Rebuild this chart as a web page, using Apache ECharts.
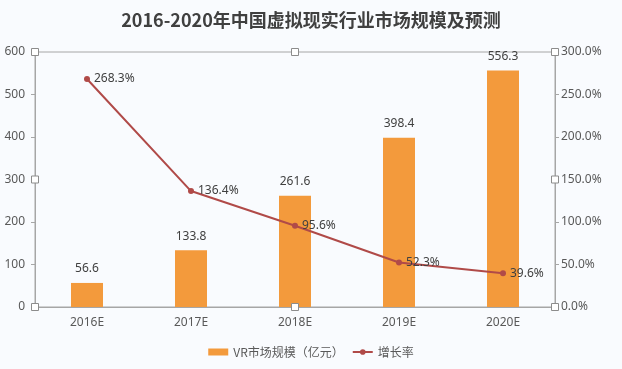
<!DOCTYPE html>
<html><head><meta charset="utf-8">
<script src="https://cdn.jsdelivr.net/npm/echarts@6/dist/echarts.min.js"></script>
<style>html,body{margin:0;padding:0;background:#fff}#c{width:622px;height:369px}</style>
</head><body><div id="c"></div>
<script>
const categories = ['2016E','2017E','2018E','2019E','2020E'];
const marketSize = [56.6, 133.8, 261.6, 398.4, 556.3];
const growthRate = [268.3, 136.4, 95.6, 52.3, 39.6];
const seriesNames = ['VR市场规模（亿元）', '增长率'];
const titleText = '2016-2020年中国虚拟现实行业市场规模及预测';

const chart = echarts.init(document.getElementById('c'));
const txt = '#595959';
const gridL = 35, gridR = 67, gridT = 52, gridB = 62;
chart.setOption({
  backgroundColor: '#f9fbfe',
  title: { text: titleText, left: 'center', top: 6,
    textStyle: { fontFamily: 'Noto Sans CJK SC', fontSize: 18, fontWeight: 'bold', color: '#404040' } },
  grid: { left: gridL, right: gridR, top: gridT, bottom: gridB, show: true, borderColor: '#a6a6a6', borderWidth: 1 },
  legend: { bottom: 6, left: 'center', itemWidth: 20, itemHeight: 7, itemGap: 8,
    textStyle: { fontFamily: 'Noto Sans CJK SC', fontSize: 12, color: txt },
    data: [{ name: seriesNames[0], icon: 'rect' }, { name: seriesNames[1] }] },
  xAxis: { type: 'category', data: categories,
    axisLine: { lineStyle: { color: '#a6a6a6', width: 1 } }, axisTick: { show: false },
    axisLabel: { color: txt, fontSize: 12, fontFamily: 'Noto Sans', margin: 10 } },
  yAxis: [
    { type: 'value', min: 0, max: 600, interval: 100,
      axisLine: { show: true, lineStyle: { color: '#a6a6a6' } },
      axisTick: { show: true, length: 4, lineStyle: { color: '#a6a6a6' } },
      splitLine: { show: false },
      axisLabel: { color: txt, fontSize: 12, fontFamily: 'Noto Sans', margin: 10 } },
    { type: 'value', min: 0, max: 300, interval: 50,
      axisLine: { show: true, lineStyle: { color: '#a6a6a6' } },
      axisTick: { show: true, length: 4, lineStyle: { color: '#a6a6a6' } },
      splitLine: { show: false },
      axisLabel: { color: txt, fontSize: 12, fontFamily: 'Noto Sans', margin: 6,
        formatter: v => v.toFixed(1) + '%' } }
  ],
  series: [
    { name: seriesNames[0], type: 'bar', data: marketSize, barWidth: 32,
      itemStyle: { color: '#f39a3c' },
      label: { show: true, position: 'top', distance: 8, color: '#404040', fontSize: 12, fontFamily: 'Noto Sans' } },
    { name: seriesNames[1], type: 'line', yAxisIndex: 1, data: growthRate,
      symbol: 'circle', symbolSize: 6,
      lineStyle: { color: '#b04a48', width: 2 }, itemStyle: { color: '#b04a48' },
      label: { show: true, position: 'right', distance: 4, color: '#404040', fontSize: 12, fontFamily: 'Noto Sans',
        formatter: p => p.value.toFixed(1) + '%' } }
  ]
});
// selection handles at the corners/midpoints of the plot frame
const W = chart.getWidth(), H = chart.getHeight();
const xs = [gridL, (gridL + W - gridR) / 2, W - gridR];
const ys = [gridT, (gridT + H - gridB) / 2, H - gridB];
const handles = [];
xs.forEach((x, i) => ys.forEach((y, j) => {
  if (i === 1 && j === 1) return;
  handles.push({ type: 'rect', shape: { x: x - 3.5, y: y - 3.5, width: 7, height: 7 },
    style: { fill: '#fff', stroke: '#8c8c8c', lineWidth: 1 }, z: 100 });
}));
chart.setOption({ graphic: handles });
</script></body></html>
